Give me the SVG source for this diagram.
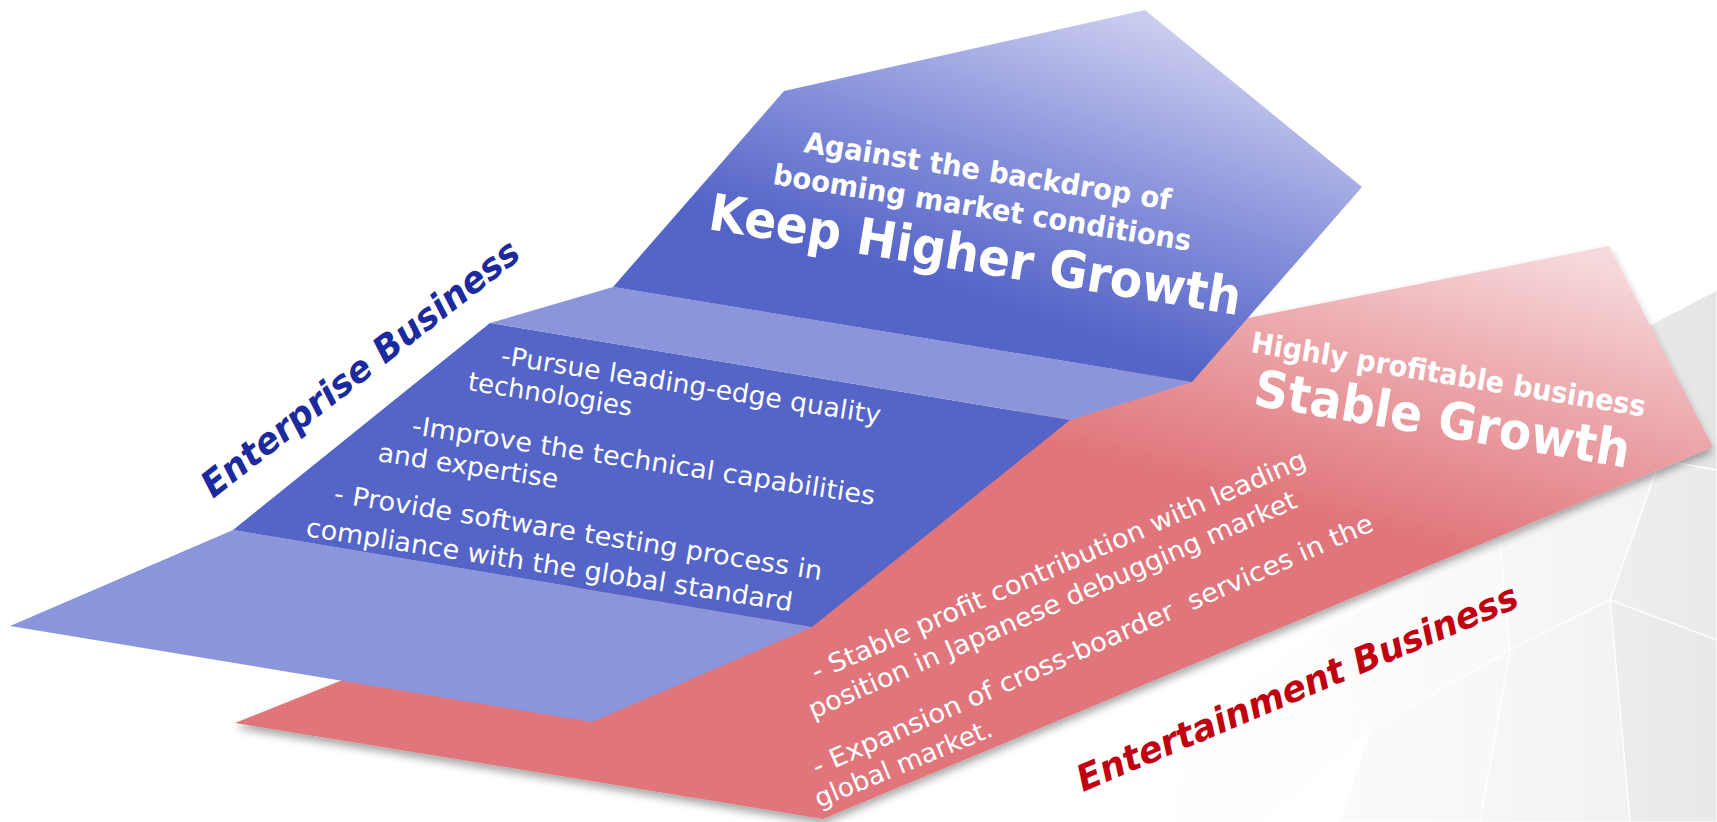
<svg xmlns="http://www.w3.org/2000/svg" width="1717" height="822" viewBox="0 0 1717 822">
  <defs>
    <style>
      text { font-family: "DejaVu Sans", Verdana, sans-serif; fill: #ffffff; }
      .hd { font-weight: bold; font-size: 29px; }
      .big { font-weight: bold; font-size: 51px; }
      .item { font-size: 26px; }
      .ritem { font-size: 26px; }
      .label { font-weight: bold; font-style: italic; font-size: 36px; }
      .face-dark { fill: #5464c7; }
      .face-light { fill: #8a95db; }
      .tile { stroke: #ffffff; stroke-width: 1.5; stroke-opacity: 0.8; }
    </style>
    <linearGradient id="topFace" gradientUnits="userSpaceOnUse" x1="1110" y1="10" x2="1010" y2="310">
      <stop offset="0" stop-color="#c9ccee"/>
      <stop offset="0.55" stop-color="#858fda"/>
      <stop offset="1" stop-color="#5464c7"/>
    </linearGradient>
    <linearGradient id="redFace" gradientUnits="userSpaceOnUse" x1="1500" y1="235" x2="1420" y2="540">
      <stop offset="0" stop-color="#f6d9dc"/>
      <stop offset="0.5" stop-color="#eba4a8"/>
      <stop offset="1" stop-color="#e0767b"/>
    </linearGradient>
    <linearGradient id="fadeLeft" gradientUnits="userSpaceOnUse" x1="1120" y1="0" x2="1717" y2="0">
      <stop offset="0" stop-color="#ffffff" stop-opacity="0"/>
      <stop offset="0.55" stop-color="#ffffff" stop-opacity="0.45"/>
      <stop offset="1" stop-color="#ffffff" stop-opacity="0.9"/>
    </linearGradient>
    <mask id="backdropMask">
      <rect x="0" y="0" width="1717" height="822" fill="url(#fadeLeft)"/>
    </mask>
    <filter id="softShadow" x="-5%" y="-5%" width="110%" height="115%">
      <feGaussianBlur in="SourceAlpha" stdDeviation="4"/>
      <feOffset dx="0" dy="5" result="blur"/>
      <feComponentTransfer>
        <feFuncA type="linear" slope="0.35"/>
      </feComponentTransfer>
      <feMerge>
        <feMergeNode/>
        <feMergeNode in="SourceGraphic"/>
      </feMerge>
    </filter>
  </defs>

  <rect x="0" y="0" width="1717" height="822" fill="#ffffff"/>

  <!-- faint geometric backdrop, lower right -->
  <g id="backdrop" mask="url(#backdropMask)">
    <polygon class="tile" points="1640,330 1717,290 1717,470 1660,460" fill="#e2e2e2"/>
    <polygon class="tile" points="1660,460 1717,470 1717,640 1610,600" fill="#e8e8e8"/>
    <polygon class="tile" points="1500,540 1660,460 1610,600 1510,650" fill="#f0f0f0"/>
    <polygon class="tile" points="1610,600 1717,640 1717,822 1630,822" fill="#e6e6e6"/>
    <polygon class="tile" points="1510,650 1610,600 1630,822 1480,822" fill="#eeeeee"/>
    <polygon class="tile" points="1320,630 1500,540 1510,650 1370,730" fill="#f4f4f4"/>
    <polygon class="tile" points="1370,730 1510,650 1480,822 1340,822" fill="#f1f1f1"/>
    <polygon class="tile" points="1190,730 1320,630 1370,730 1260,822 1170,822" fill="#f7f7f7"/>
  </g>

  <!-- Entertainment business plate (lies beneath the enterprise plate) -->
  <g id="entertainment">
    <polygon points="235,723 1248,318 1609,246 1713,447 823,819" fill="url(#redFace)" filter="url(#softShadow)"/>
    <text class="hd" transform="translate(1250 352) rotate(9.3)" textLength="399" lengthAdjust="spacingAndGlyphs">Highly profitable business</text>
    <text class="big" transform="translate(1252 405) rotate(9.5)" textLength="380" lengthAdjust="spacingAndGlyphs">Stable Growth</text>
    <text class="ritem" transform="translate(816 681) rotate(-23.6)" textLength="537" lengthAdjust="spacingAndGlyphs">- Stable profit contribution with leading</text>
    <text class="ritem" transform="translate(813 719) rotate(-23.6)" textLength="530" lengthAdjust="spacingAndGlyphs">position in Japanese debugging market</text>
    <text class="ritem" transform="translate(817 776) rotate(-23.8)" textLength="610" lengthAdjust="spacingAndGlyphs">- Expansion of cross-boarder&#160; services in the</text>
    <text class="ritem" transform="translate(819 808) rotate(-22.5)" textLength="190" lengthAdjust="spacingAndGlyphs">global market.</text>
  </g>

  <!-- Enterprise business staircase -->
  <g id="enterprise">
    <polygon class="face-light" points="233,530 812,627 592,722 10,626"/>
    <polygon class="face-dark" points="490,323 1070,420 812,627 233,530"/>
    <polygon class="face-light" points="613,287 1192,382 1070,420 490,323"/>
    <polygon points="784,91 1145,10 1362,187 1192,382 613,287" fill="url(#topFace)"/>

    <text class="hd" transform="translate(803 152) rotate(9)" textLength="371" lengthAdjust="spacingAndGlyphs">Against the backdrop of</text>
    <text class="hd" transform="translate(772 184) rotate(9.1)" textLength="423" lengthAdjust="spacingAndGlyphs">booming market conditions</text>
    <text class="big" transform="translate(707 229) rotate(9.2)" textLength="538" lengthAdjust="spacingAndGlyphs">Keep Higher Growth</text>

    <text class="item" transform="translate(500 364) rotate(9)" textLength="384" lengthAdjust="spacingAndGlyphs">-Pursue leading-edge quality</text>
    <text class="item" transform="translate(467 390) rotate(9)" textLength="166" lengthAdjust="spacingAndGlyphs">technologies</text>
    <text class="item" transform="translate(411 434) rotate(8.7)" textLength="468" lengthAdjust="spacingAndGlyphs">-Improve the technical capabilities</text>
    <text class="item" transform="translate(377 461) rotate(8.6)" textLength="182" lengthAdjust="spacingAndGlyphs">and expertise</text>
    <text class="item" transform="translate(333 502) rotate(9.1)" textLength="494" lengthAdjust="spacingAndGlyphs">- Provide software testing process in</text>
    <text class="item" transform="translate(305 536) rotate(8.8)" textLength="492" lengthAdjust="spacingAndGlyphs">compliance with the global standard</text>
  </g>

  <!-- side labels -->
  <g id="labels">
    <text class="label" transform="translate(213 499) rotate(-38)" textLength="393" lengthAdjust="spacingAndGlyphs" style="fill:#1b2a9e">Enterprise Business</text>
    <text class="label" transform="translate(1083 792) rotate(-23)" textLength="476" lengthAdjust="spacingAndGlyphs" style="fill:#c00010">Entertainment Business</text>
  </g>
</svg>
